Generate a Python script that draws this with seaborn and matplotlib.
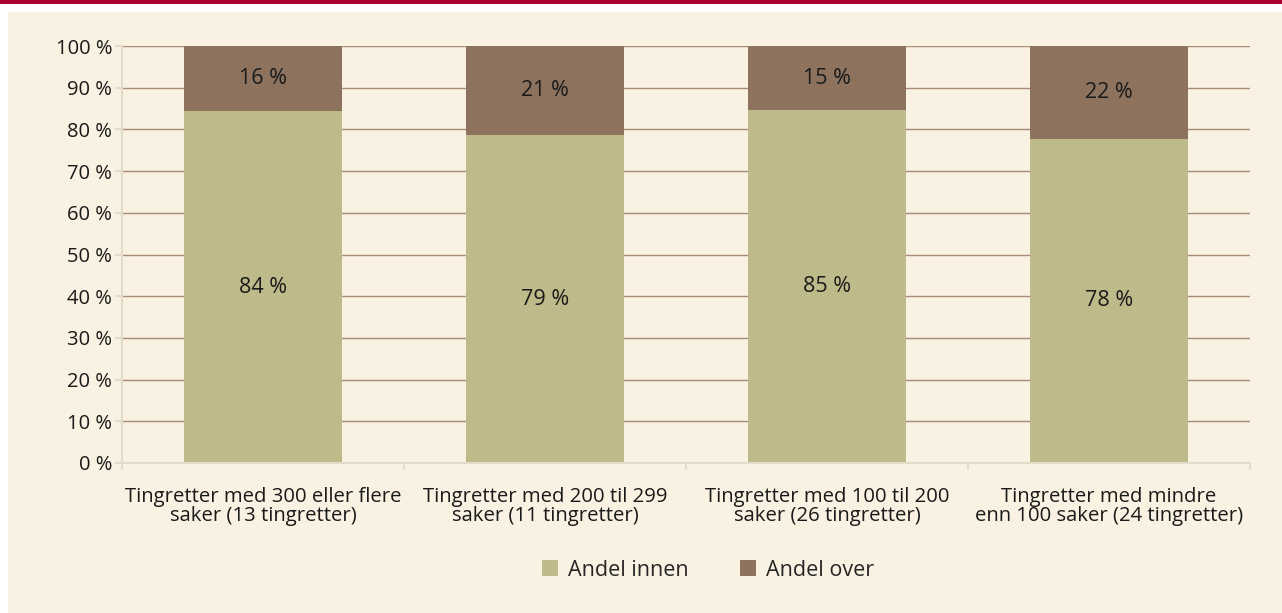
import pandas as pd
import numpy as np
import seaborn as sns
import matplotlib.pyplot as plt
from matplotlib.patches import Rectangle, Patch

# Data (share within / over, percent)
categories = [
    'Tingretter med 300 eller flere\nsaker (13 tingretter)',
    'Tingretter med 200 til 299\nsaker (11 tingretter)',
    'Tingretter med 100 til 200\nsaker (26 tingretter)',
    'Tingretter med mindre\nenn 100 saker (24 tingretter)',
]
andel_innen = [84.4, 78.6, 84.6, 77.7]
andel_over = [15.6, 21.4, 15.4, 22.3]

df = pd.DataFrame({
    'Kategori': categories,
    'Andel innen': andel_innen,
    'Andel over': andel_over,
})
df['Total'] = df['Andel innen'] + df['Andel over']

beige = '#f9f1e1'
light = '#bfba8a'
brown = '#8d735d'
grid_c = '#a88a76'
spine_c = '#e2dccb'
red = '#a6002f'
fs = 15.5

sns.set_theme(style='white')
plt.rcParams['font.family'] = ['Open Sans', 'DejaVu Sans']

fig = plt.figure(figsize=(12.82, 6.13), dpi=100, facecolor='white')
W, H = 1282, 613
# beige panel and red top band
fig.patches.append(Rectangle((8 / W, 0), 1 - 8 / W, 1 - 12 / H,
                             transform=fig.transFigure, facecolor=beige,
                             edgecolor='none', zorder=-5))
fig.patches.append(Rectangle((0, 1 - 4 / H), 1, 4 / H,
                             transform=fig.transFigure, facecolor=red,
                             edgecolor='none', zorder=-5))

ax = fig.add_axes([122 / W, 1 - 463 / H, (1250 - 122) / W, (463 - 46) / H])
ax.set_facecolor(beige)

sns.barplot(data=df, x='Kategori', y='Total', color=brown, width=0.557,
            saturation=1, linewidth=0, ax=ax, zorder=3)
sns.barplot(data=df, x='Kategori', y='Andel innen', color=light, width=0.557,
            saturation=1, linewidth=0, ax=ax, zorder=3)

for i, row in df.iterrows():
    ax.text(i, row['Andel innen'] / 2, f"{round(row['Andel innen']):.0f} %",
            ha='center', va='center', fontsize=fs, color='#1a1a1a', zorder=5)
    ax.text(i, row['Andel innen'] + row['Andel over'] / 2,
            f"{round(row['Andel over']):.0f} %",
            ha='center', va='center', fontsize=fs, color='#1a1a1a', zorder=5)

ax.set_xlim(-0.5, len(categories) - 0.5)
ax.set_ylim(0, 100)
ax.set_yticks(np.arange(0, 101, 10))
ax.set_yticklabels([f'{v} %' for v in range(0, 101, 10)])
ax.yaxis.grid(True, color=grid_c, linewidth=1)
ax.set_axisbelow(True)
ax.set_xlabel('')
ax.set_ylabel('')

ax.set_xticks(np.arange(-0.5, len(categories)), minor=True)
ax.tick_params(axis='x', which='major', length=0, pad=17, labelsize=14.6,
               labelcolor='#1a1a1a')
ax.tick_params(axis='x', which='minor', length=5, width=1.5, color=spine_c,
               direction='out', bottom=True)
ax.tick_params(axis='y', length=5, width=1.5, color=spine_c, pad=2,
               labelsize=14.5, labelcolor='#1a1a1a', left=True)
for lbl in ax.get_xticklabels():
    lbl.set_linespacing(0.97)

for side in ['top', 'right']:
    ax.spines[side].set_visible(False)
for side in ['left', 'bottom']:
    ax.spines[side].set_color(spine_c)
    ax.spines[side].set_linewidth(1.5)
    ax.spines[side].set_zorder(4)

handles = [Patch(facecolor=light, edgecolor='none', label='Andel innen'),
           Patch(facecolor=brown, edgecolor='none', label='Andel over')]
fig.legend(handles=handles, loc='center', bbox_to_anchor=(708 / W, 1 - 570 / H),
           ncol=2, frameon=False, fontsize=fs, handlelength=0.75,
           handleheight=0.75, handletextpad=0.45, columnspacing=2.4)

fig.savefig('out.png', dpi=100, facecolor='white')
